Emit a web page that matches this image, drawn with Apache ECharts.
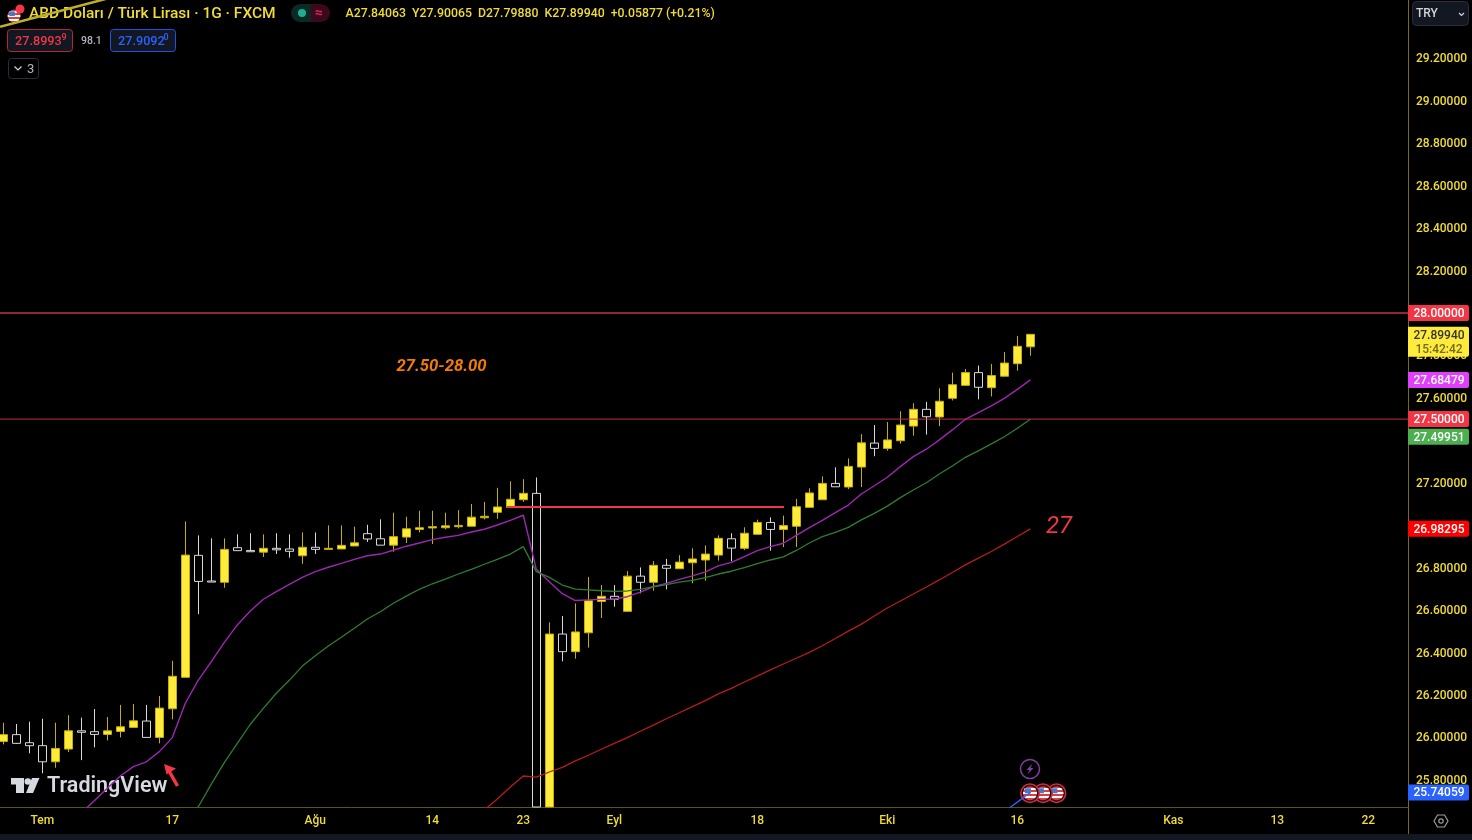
<!DOCTYPE html>
<html>
<head>
<meta charset="utf-8">
<title>USD/TRY</title>
<style>
  html, body { margin: 0; padding: 0; background: #000; }
  #chart { width: 1472px; height: 840px; }
</style>
<script src="https://cdn.jsdelivr.net/npm/echarts@6/dist/echarts.min.js"></script>
</head>
<body>
<div id="chart"></div>
<script>
// candles, one per trading day, index 0 is the first one on screen
const opens = [25.981,26.013,25.975,25.961,25.885,25.945,26.031,26.027,26.014,26.028,26.047,26.077,26.000,26.135,26.283,26.858,26.737,26.731,26.894,26.881,
  26.873,26.891,26.888,26.856,26.896,26.886,26.888,26.902,26.960,26.936,26.906,26.944,26.980,26.987,26.988,26.993,26.995,27.035,27.061,27.084,
  27.120,27.150,25.672,26.487,26.404,26.493,26.641,26.665,26.594,26.760,26.731,26.811,26.795,26.823,26.836,26.859,26.936,26.891,26.957,27.013,
  26.980,26.995,27.084,27.120,27.197,27.180,27.274,27.387,27.362,27.398,27.467,27.546,27.510,27.598,27.659,27.719,27.648,27.702,27.761,27.84063];
const closes = [26.013,25.972,25.961,25.885,25.948,26.031,26.024,26.014,26.031,26.050,26.078,26.000,26.138,26.288,26.859,26.735,26.732,26.886,26.880,26.875,
  26.891,26.884,26.877,26.896,26.886,26.891,26.905,26.917,26.935,26.906,26.946,26.983,26.988,26.993,26.997,26.999,27.038,27.042,27.086,27.122,
  27.150,25.672,26.487,26.404,26.497,26.644,26.665,26.651,26.760,26.731,26.811,26.797,26.826,26.841,26.864,26.938,26.892,26.962,27.013,26.980,
  26.998,27.087,27.152,27.197,27.181,27.277,27.388,27.362,27.402,27.472,27.546,27.511,27.584,27.662,27.719,27.650,27.705,27.764,27.843,27.89940];
const lows = [25.967,25.969,25.925,25.831,25.857,25.931,25.893,25.953,25.986,26.000,26.047,26.000,25.972,26.085,26.283,26.581,26.732,26.705,26.880,26.875,
  26.850,26.864,26.847,26.818,26.865,26.886,26.888,26.902,26.921,26.906,26.875,26.916,26.966,26.911,26.980,26.985,26.995,27.027,27.030,27.084,
  27.110,25.672,25.672,26.358,26.371,26.423,26.563,26.616,26.594,26.679,26.691,26.698,26.795,26.726,26.738,26.833,26.831,26.883,26.954,26.880,
  26.897,26.897,27.084,27.120,27.181,27.170,27.180,27.325,27.351,27.384,27.422,27.427,27.467,27.588,27.659,27.593,27.607,27.702,27.728,27.79880];
const highs = [26.069,26.063,26.074,26.088,26.069,26.105,26.093,26.134,26.096,26.153,26.157,26.153,26.195,26.361,27.018,26.952,26.938,26.938,26.957,26.962,
  26.957,26.962,26.957,26.966,26.966,26.999,26.999,26.993,27.002,27.028,27.059,27.040,27.068,27.068,27.059,27.071,27.100,27.110,27.176,27.207,
  27.217,27.225,26.542,26.572,26.631,26.756,26.718,26.718,26.784,26.801,26.831,26.841,26.859,26.891,26.905,26.952,26.962,26.990,27.026,27.037,
  27.045,27.124,27.174,27.230,27.273,27.315,27.429,27.472,27.486,27.537,27.575,27.581,27.645,27.719,27.736,27.752,27.760,27.816,27.892,27.90065];

// moving averages, each starts at the index where it comes into view
const fastStart = 6;
const fastLine = [25.644,25.702,25.760,25.818,25.862,25.885,25.933,25.999,26.161,26.270,26.357,26.448,26.530,26.596,26.651,26.687,26.721,26.754,26.781,26.802,
  26.820,26.839,26.856,26.864,26.882,26.901,26.916,26.932,26.943,26.952,26.968,26.981,27.001,27.023,27.047,26.792,26.734,26.677,26.645,26.648,
  26.651,26.652,26.663,26.685,26.710,26.726,26.745,26.761,26.780,26.808,26.825,26.852,26.880,26.899,26.915,26.952,26.989,27.023,27.059,27.095,
  27.147,27.186,27.226,27.276,27.323,27.358,27.402,27.449,27.499,27.530,27.562,27.598,27.640,27.68479];
const midStart = 14;
const midLine = [25.600,25.673,25.780,25.881,25.972,26.062,26.137,26.208,26.269,26.336,26.385,26.431,26.472,26.514,26.558,26.592,26.632,26.666,26.698,26.724,
  26.746,26.770,26.792,26.816,26.839,26.864,26.899,26.781,26.754,26.718,26.699,26.695,26.691,26.688,26.690,26.698,26.710,26.720,26.732,26.740,
  26.753,26.770,26.783,26.800,26.819,26.836,26.851,26.881,26.916,26.946,26.966,26.990,27.025,27.056,27.090,27.130,27.166,27.200,27.241,27.279,
  27.320,27.350,27.383,27.417,27.457,27.49951];
const slowStart = 37;
const slowLine = [25.658,25.710,25.766,25.818,25.813,25.837,25.859,25.889,25.916,25.944,25.972,25.999,26.029,26.058,26.088,26.116,26.145,26.173,26.205,26.231,
  26.261,26.289,26.318,26.346,26.373,26.401,26.432,26.466,26.501,26.534,26.572,26.610,26.643,26.676,26.709,26.742,26.777,26.813,26.845,26.876,
  26.911,26.947,26.98295];
const longStart = 77;
const longLine = [25.650,25.695,25.74059];

// drawn levels and trend lines
const upperLevel = 28.0;
const lowerLevel = 27.5;
const supportX = [38.75, 60.05];
const supportY = [27.086, 27.086];
const trendX = [-0.25, 8.5];
const trendY = [29.349, 29.49];

// axes
const priceMin = 25.672;
const priceMax = 29.475;
const xMin = -0.254;
const xMax = 108.05;
const priceTicks = [25.8,26,26.2,26.4,26.6,26.8,27.2,27.6,27.8,28.2,28.4,28.6,28.8,29,29.2];
const dateTickIndex = [3,13,24,33,40,47,58,68,78,90,98,105];
const dateTickLabels = ['Tem','17','Ağu','14','23','Eyl','18','Eki','16','Kas','13','22'];

// price tags on the right scale
const tagValues = [25.74059,26.98295,27.49951,27.5,27.68479,27.8994,28.0];
const tagColors = ['#2962ff','#ff0000','#4caf50','#f23645','#e040fb','#ffeb3b','#f23645'];
const tagInk = ['#fff','#fff','#fff','#fff','#fff','#333','#fff'];
const tagShift = [0,0,17.5,0,0,7.4,0];
const tagSub = ['','','','','','15:42:42',''];

const FONT = 'Roboto, sans-serif';
const AXIS_COLOR = '#5f5412';
const SCALE_COLOR = '#7a6c14';
const TEXT_YELLOW = '#f0dc32';

const candles = opens.map(function (o, i) { return [i, o, closes[i], lows[i], highs[i]]; });
const fromIndex = function (arr, start) { return arr.map(function (v, i) { return [start + i, v]; }); };

function line(name, data, color, width) {
    return { name: name, type: 'line', data: data, showSymbol: false, symbol: 'none', silent: true, z: 5,
             lineStyle: { color: color, width: width } };
}

function renderTag(params, api) {
    const i = api.value(2);
    const pt = api.coord([api.value(0), api.value(1)]);
    const sub = tagSub[i];
    const h = sub ? 30 : 16;
    const cy = pt[1] + tagShift[i];
    const kids = [
        { type: 'rect', shape: { x: pt[0], y: cy - h / 2, width: 61, height: h, r: [0, 2, 2, 0] }, style: { fill: tagColors[i] } },
        { type: 'text', style: { text: tagValues[i].toFixed(5), x: pt[0] + 31, y: sub ? cy - 6 : cy + 1, fill: tagInk[i], align: 'center', verticalAlign: 'middle', font: '500 12px ' + FONT } }
    ];
    if (sub) {
        kids.push({ type: 'text', style: { text: sub, x: pt[0] + 31, y: cy + 8.5, fill: '#6f6a20', align: 'center', verticalAlign: 'middle', font: '500 12px ' + FONT } });
    }
    return { type: 'group', children: kids };
}

// small round US flag badge
function flag(cx, cy, r, ring) {
    const stops = [];
    const colors = ['#e03c3c', '#fff', '#e03c3c', '#fff', '#e03c3c', '#fff', '#e03c3c'];
    colors.forEach(function (c, i) {
        stops.push({ offset: i / 7, color: c }, { offset: (i + 1) / 7, color: c });
    });
    const kids = [];
    if (ring) {
        kids.push({ type: 'circle', shape: { cx: cx, cy: cy, r: r + 2.2 }, style: { fill: '#131722', stroke: ring, lineWidth: 1.5 } });
    }
    kids.push({
        type: 'circle', shape: { cx: cx, cy: cy, r: r },
        style: { fill: { type: 'linear', x: 0, y: 0, x2: 0, y2: 1, colorStops: stops } }
    }, {
        type: 'rect', shape: { x: cx - r * 0.72, y: cy - r * 0.72, width: r * 0.85, height: r * 0.72 }, style: { fill: '#4a78c8' }
    });
    return { type: 'group', children: kids };
}

function text(x, y, str, color, font, extra) {
    return { type: 'text', x: x, y: y, silent: true, style: Object.assign({ text: str, fill: color, font: font, verticalAlign: 'middle' }, extra || {}) };
}

const headerFont = '500 15.5px ' + FONT;
const boxFont = '500 12.7px ' + FONT;

const graphics = [
    // strip below the time scale and scale edge
    { type: 'rect', shape: { x: 0, y: 834, width: 1472, height: 6 }, style: { fill: '#131722' } },
    { type: 'line', shape: { x1: 1408.5, y1: 807, x2: 1408.5, y2: 834 }, style: { stroke: SCALE_COLOR, lineWidth: 1 } },

    // legend header
    flag(14, 16, 6.5),
    { type: 'circle', shape: { cx: 20, cy: 9, r: 4.5 }, style: { fill: '#f23645' } },
    text(29, 14.5, 'ABD Doları / Türk Lirası · 1G · FXCM', TEXT_YELLOW, headerFont),
    { type: 'rect', shape: { x: 291, y: 4, width: 20, height: 18, r: [9, 0, 0, 9] }, style: { fill: '#0b2a24' } },
    { type: 'rect', shape: { x: 311, y: 4, width: 19, height: 18, r: [0, 9, 9, 0] }, style: { fill: '#3a0a1c' } },
    { type: 'circle', shape: { cx: 302, cy: 13, r: 4 }, style: { fill: '#22ab94' } },
    text(319, 13, '≈', '#e91e63', '700 14px ' + FONT, { align: 'center' }),
    text(345.5, 14, 'A27.84063  Y27.90065  D27.79880  K27.89940  +0.05877 (+0.21%)', TEXT_YELLOW, '500 12.3px ' + FONT),

    { type: 'rect', shape: { x: 7.5, y: 29.5, width: 65, height: 22, r: 3 }, style: { fill: '#131722', stroke: '#b22833', lineWidth: 1 } },
    text(15, 41.5, '27.8993', '#f23645', boxFont),
    text(61.5, 38, '9', '#f23645', '500 9px ' + FONT),
    text(81, 41, '98.1', '#b2b5be', '500 10.5px ' + FONT),
    { type: 'rect', shape: { x: 110.5, y: 29.5, width: 65, height: 22, r: 3 }, style: { fill: '#131722', stroke: '#1e53e5', lineWidth: 1 } },
    text(118, 41.5, '27.9092', '#2962ff', boxFont),
    text(163.5, 38, '0', '#2962ff', '500 9px ' + FONT),
    { type: 'rect', shape: { x: 8.5, y: 58.5, width: 30, height: 20, r: 3 }, style: { fill: '#000', stroke: '#2a2e39', lineWidth: 1 } },
    { type: 'polyline', shape: { points: [[14.5, 66.5], [18, 70], [21.5, 66.5]] }, style: { stroke: '#d1d4dc', fill: null, lineWidth: 1.2 } },
    text(27, 69.5, '3', '#b2b5be', '400 13px ' + FONT),

    // currency selector
    { type: 'rect', shape: { x: 1412.5, y: 1.5, width: 56, height: 24, r: 4 }, style: { fill: '#131722', stroke: '#2a2e39', lineWidth: 1 } },
    text(1416, 14, 'TRY', '#d1d4dc', '500 12px ' + FONT),
    { type: 'polyline', shape: { points: [[1459, 13], [1461.5, 15.5], [1464, 13]] }, style: { stroke: '#d1d4dc', fill: null, lineWidth: 1.2 } },

    // annotations on the chart
    text(396.5, 367, '27.50-28.00', '#f57c00', 'italic 700 16.7px ' + FONT),
    text(1046, 526.5, '27', '#f23645', 'italic 400 24px ' + FONT),

    // red arrow
    { type: 'line', shape: { x1: 177.5, y1: 786, x2: 168.5, y2: 770 }, style: { stroke: '#f23645', lineWidth: 3.5 } },
    { type: 'polygon', shape: { points: [[164, 764], [176, 768.5], [166.5, 774.5]] }, style: { fill: '#f23645' } },

    // watermark
    { type: 'polygon', shape: { points: [[11, 778], [24, 778], [24, 793], [16, 793], [16, 784.5], [11, 784.5]] }, style: { fill: '#d6d9e0' } },
    { type: 'circle', shape: { cx: 27.8, cy: 781.5, r: 3.3 }, style: { fill: '#d6d9e0' } },
    { type: 'polygon', shape: { points: [[32, 778], [39.5, 778], [33, 793], [26, 793]] }, style: { fill: '#d6d9e0' } },
    text(47, 786.5, 'TradingView', '#d6d9e0', '600 21.5px ' + FONT),

    // events at the bottom of the chart
    { type: 'circle', shape: { cx: 1030, cy: 769, r: 9.5 }, style: { fill: '#000', stroke: '#7e3fa0', lineWidth: 1.5 } },
    { type: 'polygon', shape: { points: [[1032.5, 763.5], [1026.5, 770], [1029.5, 770], [1027.5, 774.5], [1033.5, 768], [1030.5, 768]] }, style: { fill: '#7e3fa0' } },
    flag(1056.5, 793.3, 7, '#e0283a'),
    flag(1043, 793.3, 7, '#e0283a'),
    flag(1030, 793.3, 7, '#e0283a'),

    // settings
    { type: 'polygon', shape: { points: [[1434, 821], [1437.5, 815], [1444.5, 815], [1448, 821], [1444.5, 827], [1437.5, 827]] }, style: { fill: null, stroke: '#9a9da5', lineWidth: 1.2 } },
    { type: 'circle', shape: { cx: 1441, cy: 821, r: 2.2 }, style: { fill: null, stroke: '#9a9da5', lineWidth: 1.2 } }
];

const chart = echarts.init(document.getElementById('chart'));

chart.setOption({
    backgroundColor: '#000',
    animation: false,
    grid: { left: 0, top: 0, right: 64, bottom: 33 },
    xAxis: {
        type: 'value', min: xMin, max: xMax,
        splitLine: { show: false },
        axisLine: { onZero: false, lineStyle: { color: AXIS_COLOR } },
        axisTick: { show: false },
        axisLabel: {
            customValues: dateTickIndex, margin: 8, color: TEXT_YELLOW, fontFamily: 'Roboto', fontWeight: 500, fontSize: 12,
            formatter: function (v) { return dateTickLabels[dateTickIndex.indexOf(v)]; }
        }
    },
    yAxis: {
        type: 'value', position: 'right', min: priceMin, max: priceMax, scale: true,
        splitLine: { show: false },
        axisLine: { show: true, onZero: false, lineStyle: { color: SCALE_COLOR } },
        axisTick: { show: false },
        axisLabel: {
            customValues: priceTicks, margin: 8, color: TEXT_YELLOW, fontFamily: 'Roboto', fontWeight: 500, fontSize: 12,
            rich: { v: { color: TEXT_YELLOW, fontFamily: 'Roboto', fontWeight: 500, fontSize: 12, padding: [2, 0, 0, 0] } },
            formatter: function (v) { return '{v|' + v.toFixed(5) + '}'; }
        }
    },
    series: [
        {
            name: 'USDTRY', type: 'candlestick', data: candles, barWidth: 8, silent: true, z: 3,
            itemStyle: { color: '#ffeb3b', color0: '#000', borderColor: '#c4b000', borderColor0: '#d8d8d8', borderWidth: 1 }
        },
        line('fast', fromIndex(fastLine, fastStart), '#9c27b0', 1.4),
        line('mid', fromIndex(midLine, midStart), '#2e7d32', 1.3),
        line('slow', fromIndex(slowLine, slowStart), '#b71c1c', 1.3),
        line('long', fromIndex(longLine, longStart), '#2962ff', 1.3),
        line('upper', [[xMin, upperLevel], [xMax, upperLevel]], '#c2304a', 1.3),
        line('lower', [[xMin, lowerLevel], [xMax, lowerLevel]], '#b8304a', 1),
        line('support', [[supportX[0], supportY[0]], [supportX[1], supportY[1]]], '#f23645', 2),
        line('trend', [[trendX[0], trendY[0]], [trendX[1], trendY[1]]], '#bfae2a', 2.5),
        {
            name: 'tags', type: 'custom', silent: true, z: 20, renderItem: renderTag,
            encode: { x: 0, y: 1 },
            data: tagValues.map(function (v, i) { return [xMax, v, i]; })
        }
    ],
    graphic: { elements: graphics }
});
</script>
</body>
</html>
